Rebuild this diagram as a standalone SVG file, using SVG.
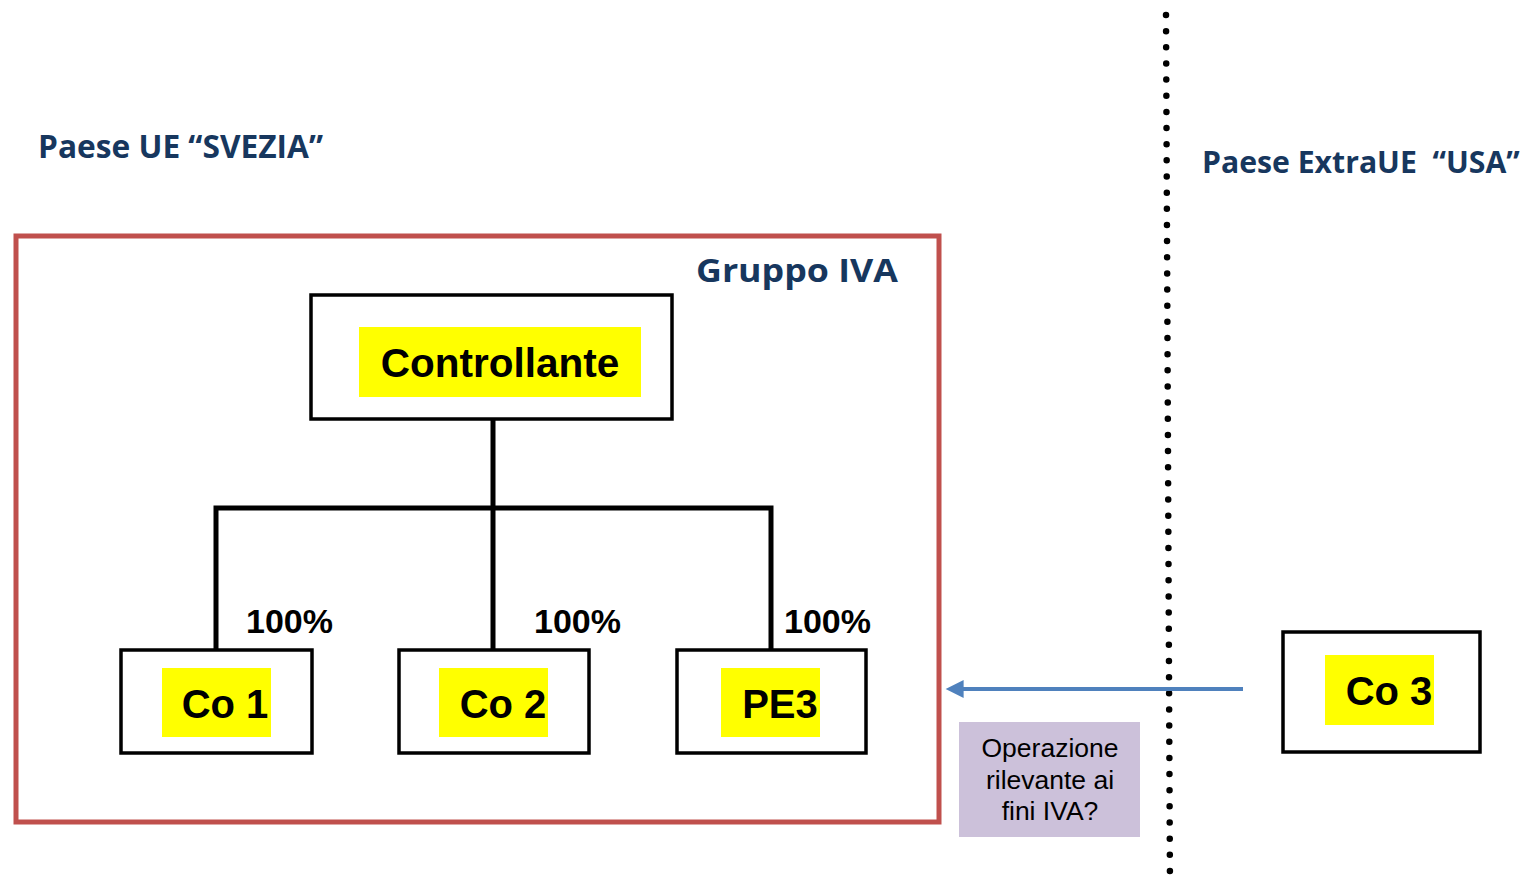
<svg xmlns="http://www.w3.org/2000/svg" width="1536" height="879" viewBox="0 0 1536 879">
<defs>
<style>
.title{font-family:"Open Sans","Liberation Sans",sans-serif;font-weight:bold;fill:#17375e;font-size:33px}
.box{fill:#fff;stroke:#000;stroke-width:3.5}
.hl{fill:#ffff00}
.lbl{font-family:"Liberation Sans",Arial,sans-serif;font-weight:bold;fill:#000;text-anchor:middle}
.pct{font-family:"Liberation Sans",Arial,sans-serif;font-weight:bold;fill:#000;font-size:34px}
.tree{fill:none;stroke:#000;stroke-width:5}
.note{font-family:"Liberation Sans",Arial,sans-serif;fill:#000;font-size:26.5px;text-anchor:middle}
</style>
<marker id="ah" viewBox="0 0 10 10" refX="2" refY="5" markerWidth="5" markerHeight="4.5" orient="auto-start-reverse" markerUnits="strokeWidth">
<path d="M0,0 L10,5 L0,10 z" fill="#4f81bd"/>
</marker>
</defs>
<rect width="1536" height="879" fill="#fff"/>
<g id="labels">
<text class="title" x="38" y="158" textLength="285" lengthAdjust="spacingAndGlyphs">Paese UE “SVEZIA”</text>
<text class="title" x="1202" y="173" style="font-size:30.2px" xml:space="preserve">Paese ExtraUE  “USA”</text>
</g>
<g id="separator">
<line x1="1166" y1="15" x2="1170" y2="892" stroke="#000" stroke-width="6.5" stroke-linecap="round" stroke-dasharray="0 16.15"/>
</g>
<g id="gruppo-iva">
<rect x="16" y="236" width="923" height="586" fill="none" stroke="#c0504d" stroke-width="5"/>
<text class="title" x="696" y="282" textLength="202" lengthAdjust="spacingAndGlyphs">Gruppo IVA</text>
</g>
<g id="connectors">
<path class="tree" d="M493,419 V508 M216,649 V508 H771 V649 M493,508 V649"/>
<line x1="1243" y1="689" x2="960" y2="689" stroke="#4f81bd" stroke-width="4" marker-end="url(#ah)"/>
<text class="pct" x="246" y="633">100%</text>
<text class="pct" x="534" y="633">100%</text>
<text class="pct" x="784" y="633">100%</text>
</g>
<g id="controllante">
<rect class="box" x="311" y="295" width="361" height="124"/>
<rect class="hl" x="359" y="327" width="282" height="70"/>
<text class="lbl" x="500" y="377" font-size="40.5">Controllante</text>
</g>
<g id="co1">
<rect class="box" x="121" y="650" width="191" height="103"/>
<rect class="hl" x="162" y="668" width="109" height="69"/>
<text class="lbl" x="225" y="718" font-size="40">Co 1</text>
</g>
<g id="co2">
<rect class="box" x="399" y="650" width="190" height="103"/>
<rect class="hl" x="439" y="668" width="109" height="69"/>
<text class="lbl" x="503" y="718" font-size="40">Co 2</text>
</g>
<g id="pe3">
<rect class="box" x="677" y="650" width="189" height="103"/>
<rect class="hl" x="721" y="668" width="99" height="69"/>
<text class="lbl" x="780" y="718" font-size="40">PE3</text>
</g>
<g id="co3">
<rect class="box" x="1283" y="632" width="197" height="120"/>
<rect class="hl" x="1325" y="655" width="109" height="70"/>
<text class="lbl" x="1389" y="705" font-size="40">Co 3</text>
</g>
<g id="nota">
<rect x="959" y="722" width="181" height="115" fill="#ccc1da"/>
<text class="note" x="1050" y="757">Operazione</text>
<text class="note" x="1050" y="789">rilevante ai</text>
<text class="note" x="1050" y="820">fini IVA?</text>
</g>
</svg>
